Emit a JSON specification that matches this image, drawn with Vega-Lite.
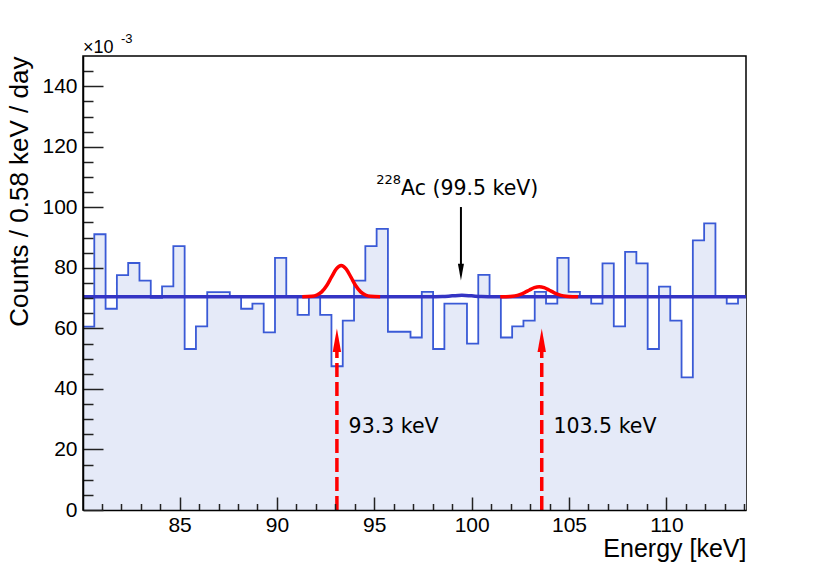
{
  "$schema": "https://vega.github.io/schema/vega-lite/v6.json",
  "width": 663,
  "height": 454,
  "autosize": "none",
  "padding": {"left": 83, "top": 56, "right": 84, "bottom": 57},
  "background": "white",
  "config": {
    "view": {"stroke": "black", "strokeWidth": 1.5},
    "font": "Liberation Sans"
  },
  "datasets": {
    "hist": [
      {"e": 80.04, "c": 60.6}, {"e": 80.62, "c": 91.1}, {"e": 81.20, "c": 66.5}, {"e": 81.78, "c": 77.6},
      {"e": 82.36, "c": 81.6}, {"e": 82.94, "c": 75.8}, {"e": 83.52, "c": 70.1}, {"e": 84.10, "c": 73.9},
      {"e": 84.68, "c": 87.2}, {"e": 85.26, "c": 53.2}, {"e": 85.84, "c": 60.7}, {"e": 86.42, "c": 72.0},
      {"e": 87.00, "c": 72.0}, {"e": 87.58, "c": 70.6}, {"e": 88.16, "c": 66.5}, {"e": 88.74, "c": 68.2},
      {"e": 89.32, "c": 58.7}, {"e": 89.90, "c": 83.3}, {"e": 90.48, "c": 70.5}, {"e": 91.06, "c": 64.5},
      {"e": 91.64, "c": 70.5}, {"e": 92.22, "c": 64.5}, {"e": 92.80, "c": 47.5}, {"e": 93.38, "c": 62.6},
      {"e": 93.96, "c": 75.8}, {"e": 94.54, "c": 87.2}, {"e": 95.12, "c": 92.9}, {"e": 95.70, "c": 58.9},
      {"e": 96.28, "c": 58.9}, {"e": 96.86, "c": 57.0}, {"e": 97.44, "c": 72.1}, {"e": 98.02, "c": 53.2},
      {"e": 98.60, "c": 68.2}, {"e": 99.18, "c": 68.2}, {"e": 99.76, "c": 55.0}, {"e": 100.34, "c": 77.7},
      {"e": 100.92, "c": 70.5}, {"e": 101.50, "c": 57.0}, {"e": 102.08, "c": 60.7}, {"e": 102.66, "c": 62.6},
      {"e": 103.24, "c": 72.1}, {"e": 103.82, "c": 68.2}, {"e": 104.40, "c": 83.3}, {"e": 104.98, "c": 72.1},
      {"e": 105.56, "c": 70.5}, {"e": 106.14, "c": 68.2}, {"e": 106.72, "c": 81.5}, {"e": 107.30, "c": 60.7},
      {"e": 107.88, "c": 85.3}, {"e": 108.46, "c": 81.5}, {"e": 109.04, "c": 53.2}, {"e": 109.62, "c": 73.8},
      {"e": 110.20, "c": 62.6}, {"e": 110.78, "c": 43.8}, {"e": 111.36, "c": 89.1}, {"e": 111.94, "c": 94.7},
      {"e": 112.52, "c": 70.5}, {"e": 113.10, "c": 68.2}, {"e": 113.68, "c": 70.5}, {"e": 114.26, "c": 70.5}
    ],
    "fit": [
      {"e": 80.04, "c": 70.45}, {"e": 97.8, "c": 70.45}, {"e": 98.5, "c": 70.52}, {"e": 99.0, "c": 70.75},
      {"e": 99.5, "c": 70.95}, {"e": 100.0, "c": 70.75}, {"e": 100.5, "c": 70.52}, {"e": 101.2, "c": 70.45},
      {"e": 114.09, "c": 70.45}
    ],
    "peaks": [
      {"g": "93.3", "e": 91.3, "c": 70.45}, {"g": "93.3", "e": 91.8, "c": 70.61}, {"g": "93.3", "e": 92.05, "c": 71.03},
      {"g": "93.3", "e": 92.3, "c": 72.07}, {"g": "93.3", "e": 92.55, "c": 74.09}, {"g": "93.3", "e": 92.8, "c": 76.94},
      {"g": "93.3", "e": 93.05, "c": 79.63}, {"g": "93.3", "e": 93.3, "c": 80.75}, {"g": "93.3", "e": 93.55, "c": 79.63},
      {"g": "93.3", "e": 93.8, "c": 76.94}, {"g": "93.3", "e": 94.05, "c": 74.09}, {"g": "93.3", "e": 94.3, "c": 72.07},
      {"g": "93.3", "e": 94.55, "c": 71.03}, {"g": "93.3", "e": 94.8, "c": 70.61}, {"g": "93.3", "e": 95.3, "c": 70.45},
      {"g": "103.5", "e": 101.47, "c": 70.45}, {"g": "103.5", "e": 101.97, "c": 70.55}, {"g": "103.5", "e": 102.22, "c": 70.75},
      {"g": "103.5", "e": 102.47, "c": 71.16}, {"g": "103.5", "e": 102.72, "c": 71.84}, {"g": "103.5", "e": 102.97, "c": 72.69},
      {"g": "103.5", "e": 103.22, "c": 73.45}, {"g": "103.5", "e": 103.47, "c": 73.75}, {"g": "103.5", "e": 103.72, "c": 73.45},
      {"g": "103.5", "e": 103.97, "c": 72.69}, {"g": "103.5", "e": 104.22, "c": 71.84}, {"g": "103.5", "e": 104.47, "c": 71.16},
      {"g": "103.5", "e": 104.72, "c": 70.75}, {"g": "103.5", "e": 104.97, "c": 70.55}, {"g": "103.5", "e": 105.47, "c": 70.45}
    ],
    "redLines": [
      {"e": 93.08, "c": 0, "c2": 56},
      {"e": 103.6, "c": 0, "c2": 56}
    ],
    "redHeads": [
      {"e": 93.08, "c": 56.1},
      {"e": 103.6, "c": 56.1}
    ],
    "redLabels": [
      {"e": 93.68, "c": 25.3, "t": "93.3 keV"},
      {"e": 104.2, "c": 25.3, "t": "103.5 keV"}
    ],
    "acLine": [{"e": 99.45, "c": 100.1, "c2": 80}],
    "acHead": [{"e": 99.45, "c": 78.6}],
    "acLabel": [{"e": 96.37, "c": 104.1, "t": "Ac (99.5 keV)", "iso": "228"}],
    "scaleNote": [{"e": 80.04, "c": 150, "t": "×10", "p": "-3"}]
  },
  "encoding": {
    "x": {
      "field": "e", "type": "quantitative",
      "scale": {"domain": [80.04, 114.09], "nice": false, "zero": false},
      "axis": {
        "title": "Energy [keV]",
        "titleAnchor": "end", "titleFontSize": 25, "titleFontWeight": "normal", "titleColor": "black",
        "titleFont": "Liberation Sans", "titlePadding": -5,
        "values": [81,82,83,84,85,86,87,88,89,90,91,92,93,94,95,96,97,98,99,100,101,102,103,104,105,106,107,108,109,110,111,112,113,114],
        "labelExpr": "datum.value % 5 == 0 ? datum.label : ''",
        "labelFontSize": 21, "labelColor": "black", "labelFont": "Liberation Sans",
        "labelOverlap": false, "labelFlush": false, "labelPadding": 17,
        "tickSize": {"condition": {"test": "datum.value % 5 == 0", "value": -13}, "value": -6.5},
        "tickColor": "#222222", "tickWidth": 1.5,
        "domainColor": "black", "domainWidth": 1.5, "grid": false, "zindex": 1
      }
    },
    "y": {
      "field": "c", "type": "quantitative",
      "scale": {"domain": [0, 150], "nice": false},
      "axis": {
        "title": "Counts / 0.58 keV / day",
        "titleAnchor": "end", "titleFontSize": 26, "titleFontWeight": "normal", "titleColor": "black",
        "titleFont": "Liberation Sans", "titlePadding": 9,
        "values": [0,5,10,15,20,25,30,35,40,45,50,55,60,65,70,75,80,85,90,95,100,105,110,115,120,125,130,135,140,145],
        "labelExpr": "datum.value % 20 == 0 ? datum.label : ''",
        "labelFontSize": 21, "labelColor": "black", "labelFont": "Liberation Sans",
        "labelOverlap": false, "labelFlush": false, "labelPadding": 26,
        "tickSize": {"condition": {"test": "datum.value % 20 == 0", "value": -20}, "value": -10},
        "tickColor": "#222222", "tickWidth": 1.5,
        "domainColor": "black", "domainWidth": 1.5, "grid": false, "zindex": 1
      }
    }
  },
  "layer": [
    {
      "data": {"name": "hist"},
      "mark": {"type": "area", "interpolate": "step-after", "fill": "#e5eaf8", "clip": true}
    },
    {
      "data": {"name": "hist"},
      "mark": {"type": "line", "interpolate": "step-after", "stroke": "#3a5ad6", "strokeWidth": 1.8, "clip": true}
    },
    {
      "data": {"name": "fit"},
      "mark": {"type": "line", "interpolate": "monotone", "stroke": "#3434c4", "strokeWidth": 3.5, "clip": true}
    },
    {
      "data": {"name": "peaks"},
      "mark": {"type": "line", "interpolate": "monotone", "stroke": "#ff0000", "strokeWidth": 3.5},
      "encoding": {"detail": {"field": "g"}}
    },
    {
      "data": {"name": "redLines"},
      "mark": {"type": "rule", "stroke": "#ff0000", "strokeWidth": 3.5, "strokeDash": [14, 5]},
      "encoding": {"y2": {"field": "c2"}}
    },
    {
      "data": {"name": "redHeads"},
      "mark": {"type": "point", "shape": "M0,-1L0.36,1L-0.36,1Z", "filled": true, "fill": "#ff0000", "opacity": 1, "size": 548, "strokeWidth": 0}
    },
    {
      "data": {"name": "redLabels"},
      "mark": {"type": "text", "align": "left", "baseline": "alphabetic", "font": "DejaVu Sans", "fontSize": 20.5, "color": "black"},
      "encoding": {"text": {"field": "t"}}
    },
    {
      "data": {"name": "acLine"},
      "mark": {"type": "rule", "stroke": "black", "strokeWidth": 2},
      "encoding": {"y2": {"field": "c2"}}
    },
    {
      "data": {"name": "acHead"},
      "mark": {"type": "point", "shape": "M0,1L0.36,-1L-0.36,-1Z", "filled": true, "fill": "black", "opacity": 1, "size": 279, "strokeWidth": 0}
    },
    {
      "data": {"name": "acLabel"},
      "mark": {"type": "text", "align": "left", "baseline": "alphabetic", "font": "DejaVu Sans", "fontSize": 20.5, "color": "black"},
      "encoding": {"text": {"field": "t"}}
    },
    {
      "data": {"name": "acLabel"},
      "mark": {"type": "text", "align": "right", "baseline": "alphabetic", "font": "DejaVu Sans", "fontSize": 13, "dy": -10.7, "color": "black"},
      "encoding": {"text": {"field": "iso"}}
    },
    {
      "data": {"name": "scaleNote"},
      "mark": {"type": "text", "align": "left", "baseline": "alphabetic", "font": "Liberation Sans", "fontSize": 18, "dy": -3.3, "color": "black", "clip": false},
      "encoding": {"text": {"field": "t"}}
    },
    {
      "data": {"name": "scaleNote"},
      "mark": {"type": "text", "align": "left", "baseline": "alphabetic", "font": "Liberation Sans", "fontSize": 13, "dx": 38, "dy": -12.7, "color": "black", "clip": false},
      "encoding": {"text": {"field": "p"}}
    }
  ]
}
